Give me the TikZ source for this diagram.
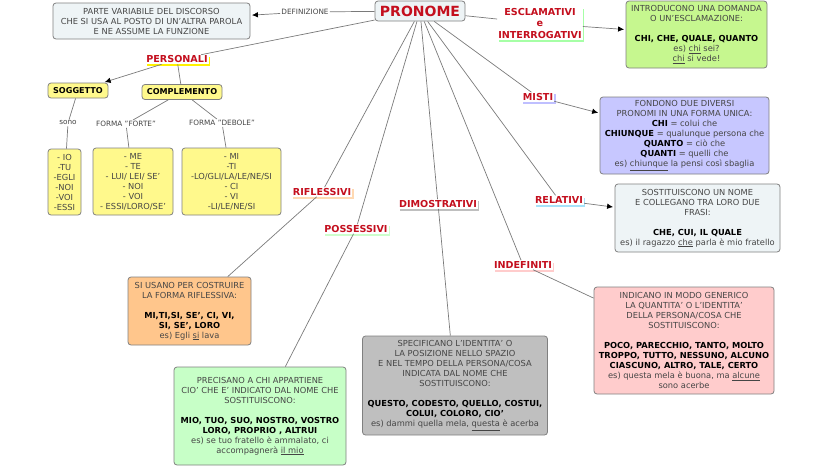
\documentclass[tikz,border=0pt]{standalone}
\usepackage{fontspec}
\usepackage{xcolor}
\usetikzlibrary{arrows.meta,shadows}
\setmainfont{DejaVu Sans}
\definecolor{bodytext}{HTML}{454545}
\definecolor{tagred}{HTML}{C40F1E}
\definecolor{edgegray}{HTML}{7A7A7A}
\definecolor{paleblue}{HTML}{EEF4F6}
\definecolor{palelime}{HTML}{C6F78F}
\newcommand{\bk}[1]{\textcolor{black}{\textbf{#1}}}

\begin{document}
\begin{tikzpicture}[x=1pt,y=-1pt]
\tikzset{box/.style={draw=gray,line width=0.8pt,rounded corners=3pt,align=center,inner sep=0pt,text=bodytext,font=\fontsize{8.3}{10}\selectfont}}
\tikzset{tag/.style={fill=white,inner sep=1pt,align=center,text=tagred,font=\fontsize{9.6}{11.5}\selectfont\bfseries,general shadow={fill=#1,shadow xshift=1.5pt,shadow yshift=-2pt}}}
\tikzset{link/.style={text=bodytext,inner sep=1pt,fill=white,font=\fontsize{7.3}{8}\selectfont}}
\tikzset{edge/.style={draw=edgegray,line width=0.7pt}}
\tikzset{arrowed/.style={edge,-{Latex[black,length=6pt,width=5.5pt]},shorten >=1.5pt}}

\useasboundingbox (0,0) rectangle (828,466);

\node[box,fill=paleblue,minimum width=90pt,minimum height=20pt,font=\fontsize{14}{16}\selectfont\bfseries,text=tagred] (pronome) at (420,11) {PRONOME};

\node[box,fill=paleblue,minimum width=197pt,minimum height=36pt] (definizionebox) at (151.5,21) {PARTE VARIABILE DEL DISCORSO\\CHE SI USA AL POSTO DI UN'ALTRA PAROLA\\E NE ASSUME LA FUNZIONE};
\node[link] (definizione) at (305,12) {DEFINIZIONE};

\node[tag=yellow] (personali) at (177,59.5) {PERSONALI};
\node[box,fill=yellow!45,minimum width=60pt,minimum height=15pt,text=black,font=\fontsize{8.1}{10}\selectfont\bfseries] (soggetto) at (78,90.5) {SOGGETTO};
\node[box,fill=yellow!45,minimum width=80pt,minimum height=15pt,text=black,font=\fontsize{8.1}{10}\selectfont\bfseries] (complemento) at (182,92) {COMPLEMENTO};
\node[link] (sono) at (68,123) {sono};
\node[link] (forte) at (126,124) {FORMA "FORTE"};
\node[link] (debole) at (222,123) {FORMA "DEBOLE"};
\node[box,fill=yellow!45,minimum width=33pt,minimum height=66pt] (listaio) at (64.5,182) {- IO\\-TU\\-EGLI\\-NOI\\-VOI\\-ESSI};
\node[box,fill=yellow!45,minimum width=80pt,minimum height=67pt] (listame) at (133,181.5) {- ME\\- TE\\- LUI/ LEI/ SE'\\- NOI\\- VOI\\- ESSI/LORO/SE'};
\node[box,fill=yellow!45,minimum width=99pt,minimum height=67pt] (listami) at (231.5,181.5) {- MI\\-TI\\-LO/GLI/LA/LE/NE/SI\\- CI\\- VI\\-LI/LE/NE/SI};

\node[tag=green!35] (esclamativi) at (540,23.5) {ESCLAMATIVI\\e\\INTERROGATIVI};
\node[box,fill=palelime,minimum width=141pt,minimum height=67pt] (esclamativibox) at (696.5,34.5) {INTRODUCONO UNA DOMANDA\\O UN'ESCLAMAZIONE:\\[10pt]\bk{CHI, CHE, QUALE, QUANTO}\\es) \underline{chi} sei?\\\underline{chi} si vede!};

\node[tag=blue!25] (misti) at (538,97) {MISTI};
\node[box,fill=blue!22,minimum width=169pt,minimum height=77pt] (mistibox) at (684.5,135.5) {FONDONO DUE DIVERSI\\PRONOMI IN UNA FORMA UNICA:\\\bk{CHI} = colui che\\\bk{CHIUNQUE} = qualunque persona che\\\bk{QUANTO} = ciò che\\\bk{QUANTI} = quelli che\\es) \underline{chiunque} la pensi così sbaglia};

\node[tag=cyan!35] (relativi) at (559,200) {RELATIVI};
\node[box,fill=paleblue,minimum width=165pt,minimum height=68pt] (relativibox) at (697.5,218) {SOSTITUISCONO UN NOME\\E COLLEGANO TRA LORO DUE\\FRASI:\\[10pt]\bk{CHE, CUI, IL QUALE}\\es) il ragazzo \underline{che} parla è mio fratello};

\node[tag=red!20] (indefiniti) at (523,265) {INDEFINITI};
\node[box,fill=red!20,minimum width=180pt,minimum height=107pt] (indefinitibox) at (684,340.5) {INDICANO IN MODO GENERICO\\LA QUANTITA' O L'IDENTITA'\\DELLA PERSONA/COSA CHE\\SOSTITUISCONO:\\[10pt]\bk{POCO, PARECCHIO, TANTO, MOLTO}\\\bk{TROPPO, TUTTO, NESSUNO, ALCUNO}\\\bk{CIASCUNO, ALTRO, TALE, CERTO}\\es) questa mela è buona, ma \underline{alcune}\\sono acerbe};

\node[tag=gray!50] (dimostrativi) at (438,204) {DIMOSTRATIVI};
\node[box,fill=gray!50,minimum width=185pt,minimum height=99pt] (dimostrativibox) at (455,385.5) {SPECIFICANO L'IDENTITA' O\\LA POSIZIONE NELLO SPAZIO\\E NEL TEMPO DELLA PERSONA/COSA\\INDICATA DAL NOME CHE\\SOSTITUISCONO:\\[10pt]\bk{QUESTO, CODESTO, QUELLO, COSTUI,}\\\bk{COLUI, COLORO, CIO'}\\es) dammi quella mela, \underline{questa} è acerba};

\node[tag=green!20] (possessivi) at (356,229) {POSSESSIVI};
\node[box,fill=green!22,minimum width=172pt,minimum height=98pt] (possessivibox) at (260,416) {PRECISANO A CHI APPARTIENE\\CIO' CHE E' INDICATO DAL NOME CHE\\SOSTITUISCONO:\\[10pt]\bk{MIO, TUO, SUO, NOSTRO, VOSTRO}\\\bk{LORO, PROPRIO , ALTRUI}\\es) se tuo fratello è ammalato, ci\\accompagnerà \underline{il mio}};

\node[tag=orange!30] (riflessivi) at (322,192) {RIFLESSIVI};
\node[box,fill=orange!45,minimum width=123pt,minimum height=68pt] (riflessivibox) at (189.5,311) {SI USANO PER COSTRUIRE\\LA FORMA RIFLESSIVA:\\[10pt]\bk{MI,TI,SI, SE', CI, VI,}\\\bk{SI, SE', LORO}\\es) Egli \underline{si} lava};

\draw[edge] (pronome) -- (definizione);
\draw[arrowed] (definizione) -- (definizionebox);
\draw[edge] (pronome) -- (personali);
\draw[arrowed] (personali) -- (soggetto);
\draw[edge] (personali) -- (complemento);
\draw[edge] (soggetto) -- (sono);
\draw[edge] (sono) -- (listaio);
\draw[edge] (complemento) -- (forte);
\draw[edge] (forte) -- (listame);
\draw[edge] (complemento) -- (debole);
\draw[edge] (debole) -- (listami);

\draw[edge] (pronome) -- (esclamativi);
\draw[arrowed] (esclamativi) -- (esclamativibox);
\draw[edge] (pronome) -- (misti);
\draw[arrowed] (misti) -- (mistibox);
\draw[edge] (pronome) -- (relativi);
\draw[arrowed] (relativi) -- (relativibox);
\draw[edge] (pronome) -- (indefiniti);
\draw[edge] (indefiniti) -- (indefinitibox);
\draw[edge] (pronome) -- (dimostrativi);
\draw[edge] (dimostrativi) -- (dimostrativibox);
\draw[edge] (pronome) -- (possessivi);
\draw[edge] (possessivi) -- (possessivibox);
\draw[edge] (pronome) -- (riflessivi);
\draw[edge] (riflessivi) -- (riflessivibox);

\end{tikzpicture}
\end{document}
